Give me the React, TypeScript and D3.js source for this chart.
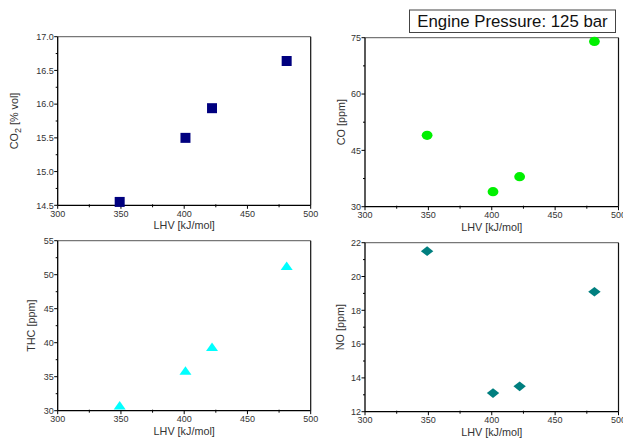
import React from "react";
import * as d3 from "d3";

// data
const lhv = [349, 401, 422, 481];
const co2 = [14.55, 15.5, 15.94, 16.64];
const co = [49, 34, 38, 74];
const thc = [30.7, 35.8, 39.3, 51.2];
const no = [21.5, 13.1, 13.5, 19.1];

const xTicks = [300, 350, 400, 450, 500];
const co2Ticks = [14.5, 15.0, 15.5, 16.0, 16.5, 17.0];
const coTicks = [30, 45, 60, 75];
const thcTicks = [30, 35, 40, 45, 50, 55];
const noTicks = [12, 14, 16, 18, 20, 22];

const FONT = "'Liberation Sans', Arial, sans-serif";

type Marker = "square" | "circle" | "triangle" | "diamond";

interface PanelProps {
  left: number;
  right: number;
  top: number;
  bottom: number;
  yDomain: [number, number];
  yTicks: number[];
  yFormat: (v: number) => string;
  values: number[];
  color: string;
  marker: Marker;
  label: React.ReactNode;
  labelOffset: number;
}

function markerPath(m: Marker): string {
  if (m === "square") return "M-5,-5L5,-5L5,5L-5,5Z";
  if (m === "triangle") return "M0,-5L6,3.5L-6,3.5Z";
  if (m === "diamond") return "M0,-4.8L6.2,0L0,4.8L-6.2,0Z";
  return "";
}

function Panel(p: PanelProps) {
  const x = d3.scaleLinear().domain([300, 500]).range([p.left, p.right]);
  const y = d3.scaleLinear().domain(p.yDomain).range([p.bottom, p.top]);
  const xMinor = d3.range(325, 500, 50);
  const yStep = p.yTicks[1] - p.yTicks[0];
  const yMinor = p.yTicks.slice(0, -1).map((t) => t + yStep / 2);

  return (
    <g>
      {/* frame */}
      <line x1={p.left} x2={p.right} y1={p.top} y2={p.top} stroke="#777" strokeWidth={1.2} />
      <line x1={p.right} x2={p.right} y1={p.top} y2={p.bottom} stroke="#111" strokeWidth={1.2} />
      <line x1={p.left} x2={p.left} y1={p.top} y2={p.bottom} stroke="#000" strokeWidth={1.3} />
      <line x1={p.left} x2={p.right} y1={p.bottom} y2={p.bottom} stroke="#000" strokeWidth={1.3} />

      {xTicks.map((t) => (
        <g key={"x" + t}>
          <line x1={x(t)} x2={x(t)} y1={p.bottom} y2={p.bottom + 3.5} stroke="#000" />
          <text x={x(t)} y={p.bottom + 11.5} fontSize={9} textAnchor="middle" fill="#333">
            {t}
          </text>
        </g>
      ))}
      {xMinor.map((t) => (
        <line key={"xm" + t} x1={x(t)} x2={x(t)} y1={p.bottom - 1} y2={p.bottom + 2} stroke="#000" />
      ))}
      {p.yTicks.map((t) => (
        <g key={"y" + t}>
          <line x1={p.left - 3.5} x2={p.left} y1={y(t)} y2={y(t)} stroke="#000" />
          <text x={p.left - 4} y={y(t) + 3.2} fontSize={9} textAnchor="end" fill="#333">
            {p.yFormat(t)}
          </text>
        </g>
      ))}
      {yMinor.map((t) => (
        <line key={"ym" + t} x1={p.left - 2} x2={p.left} y1={y(t)} y2={y(t)} stroke="#000" />
      ))}

      <text
        x={(p.left + p.right) / 2}
        y={p.bottom + 24}
        fontSize={10.8}
        textAnchor="middle"
        fill="#333"
      >
        LHV [kJ/mol]
      </text>
      <text
        transform={`translate(${p.left - p.labelOffset},${(p.top + p.bottom) / 2}) rotate(-90)`}
        fontSize={10.8}
        textAnchor="middle"
        fill="#333"
      >
        {p.label}
      </text>

      {lhv.map((v, i) =>
        p.marker === "circle" ? (
          <ellipse key={i} cx={x(v)} cy={y(p.values[i])} rx={5.4} ry={4.6} fill={p.color} />
        ) : (
          <path
            key={i}
            d={markerPath(p.marker)}
            transform={`translate(${x(v)},${y(p.values[i])})`}
            fill={p.color}
          />
        )
      )}
    </g>
  );
}

export default function App() {
  const f1 = d3.format(".1f");
  const f0 = d3.format("d");
  return (
    <svg
      width={623}
      height={439}
      style={{ position: "absolute", left: 0, top: 0, background: "#fff" }}
      fontFamily={FONT}
    >
      <rect width={623} height={439} fill="#fff" />
      <Panel
        left={57.7}
        right={310.7}
        top={36.7}
        bottom={205.3}
        yDomain={[14.5, 17]}
        yTicks={co2Ticks}
        yFormat={f1}
        values={co2}
        color="#00007f"
        marker="square"
        labelOffset={40}
        label={
          <>
            CO<tspan dy={3} fontSize={9}>2</tspan>
            <tspan dy={-3}> [% vol]</tspan>
          </>
        }
      />
      <Panel
        left={365}
        right={618.5}
        top={37.7}
        bottom={206.7}
        yDomain={[30, 75]}
        yTicks={coTicks}
        yFormat={f0}
        values={co}
        color="#00f000"
        marker="circle"
        labelOffset={20}
        label="CO [ppm]"
      />
      <Panel
        left={57.7}
        right={310.7}
        top={240.7}
        bottom={410.7}
        yDomain={[30, 55]}
        yTicks={thcTicks}
        yFormat={f0}
        values={thc}
        color="#00ffff"
        marker="triangle"
        labelOffset={23}
        label="THC [ppm]"
      />
      <Panel
        left={365}
        right={618.5}
        top={242.7}
        bottom={411.7}
        yDomain={[12, 22]}
        yTicks={noTicks}
        yFormat={f0}
        values={no}
        color="#007f7f"
        marker="diamond"
        labelOffset={21}
        label="NO [ppm]"
      />
      <rect x={409.5} y={10} width={206} height={22.5} fill="#fff" stroke="#444" strokeWidth={1} />
      <text x={512.5} y={27} fontSize={16.8} textAnchor="middle" fill="#111">
        Engine Pressure: 125 bar
      </text>
    </svg>
  );
}
